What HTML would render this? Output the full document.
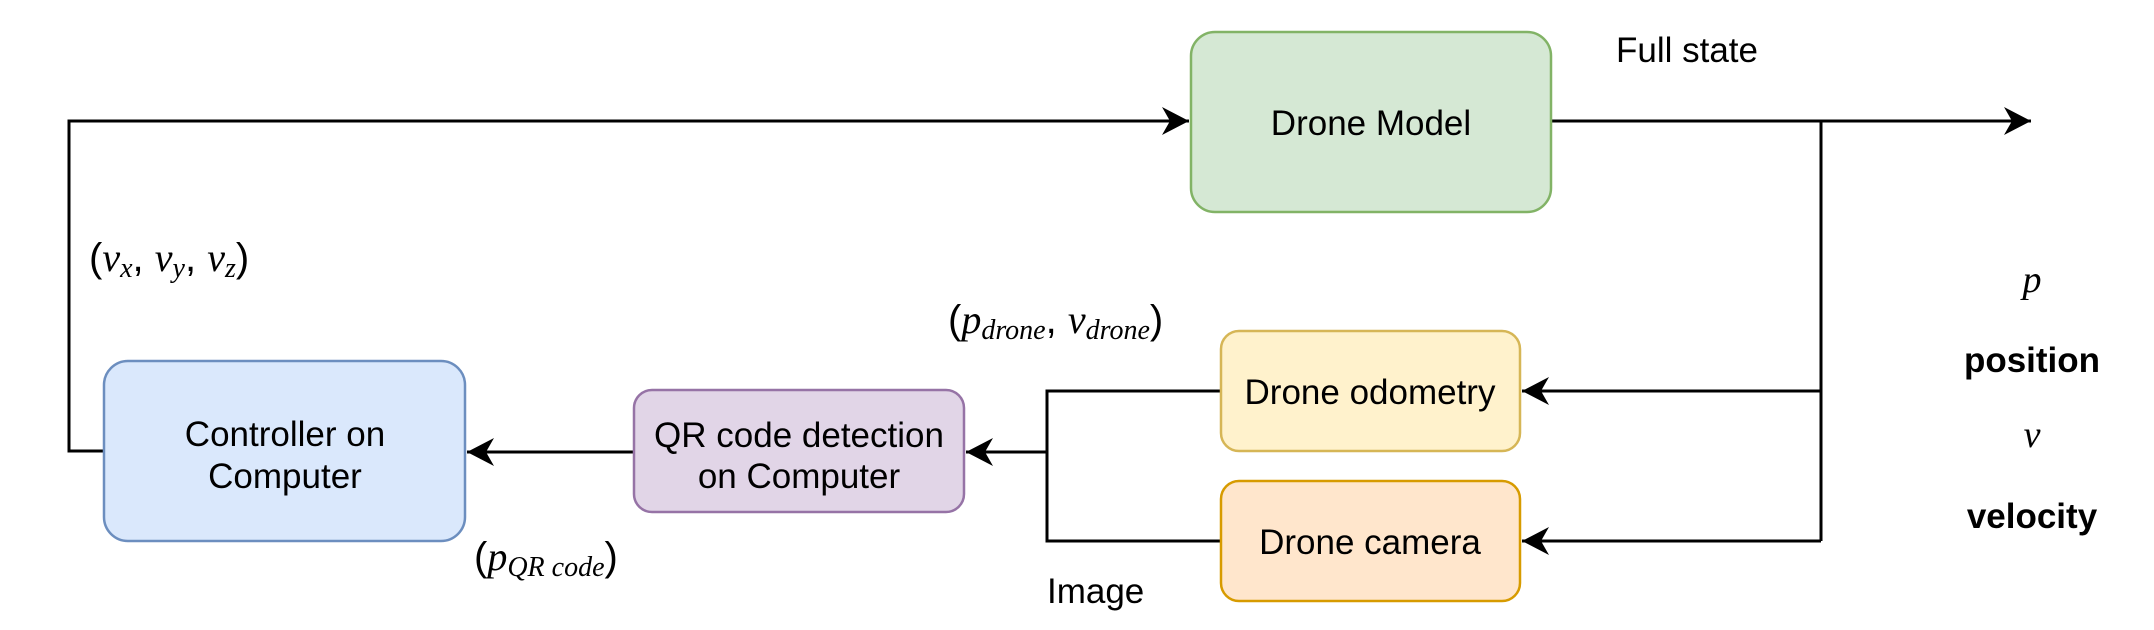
<!DOCTYPE html>
<html><head><meta charset="utf-8"><style>
html,body{margin:0;padding:0;background:#fff;}
svg{display:block;}
text{font-family:"Liberation Sans",Arial,sans-serif;fill:#000;}
.m{font-family:"Liberation Serif",serif;font-style:italic;}
</style></head><body>
<svg width="2154" height="630" viewBox="0 0 2154 630" xmlns="http://www.w3.org/2000/svg">
<defs>
<marker id="a" markerWidth="30" markerHeight="30" refX="27" refY="14" orient="auto" markerUnits="userSpaceOnUse">
<path d="M0,0 L27,14 L0,28 L8,14 Z" fill="#000"/>
</marker>
</defs>
<g stroke="#000" stroke-width="3" fill="none">
<polyline points="104,451 69,451 69,121 1189,121" marker-end="url(#a)"/>
<line x1="1551" y1="121" x2="2031" y2="121" marker-end="url(#a)"/>
<polyline points="1821,121 1821,541" />
<line x1="1821" y1="391" x2="1522" y2="391" marker-end="url(#a)"/>
<line x1="1821" y1="541" x2="1522" y2="541" marker-end="url(#a)"/>
<polyline points="1221,391 1047,391 1047,541 1221,541"/>
<line x1="1047" y1="452" x2="966" y2="452" marker-end="url(#a)"/>
<line x1="634" y1="452" x2="467" y2="452" marker-end="url(#a)"/>
</g>
<rect x="1191" y="32" width="360" height="180" rx="24" fill="#d5e8d4" stroke="#82b366" stroke-width="2.5"/>
<rect x="104" y="361" width="361" height="180" rx="24" fill="#dae8fc" stroke="#6c8ebf" stroke-width="2.5"/>
<rect x="634" y="390" width="330" height="122" rx="18" fill="#e1d5e7" stroke="#9673a6" stroke-width="2.5"/>
<rect x="1221" y="331" width="299" height="120" rx="18" fill="#fff2cc" stroke="#d6b656" stroke-width="2.5"/>
<rect x="1221" y="481" width="299" height="120" rx="18" fill="#ffe6cc" stroke="#d79b00" stroke-width="2.5"/>
<g font-size="35" text-anchor="middle">
<text x="1371" y="135">Drone Model</text>
<text x="285" y="446">Controller on</text>
<text x="285" y="488">Computer</text>
<text x="799" y="447">QR code detection</text>
<text x="799" y="488">on Computer</text>
<text x="1370" y="404">Drone odometry</text>
<text x="1370" y="554">Drone camera</text>
</g>
<text x="1616" y="62" font-size="35">Full state</text>
<text x="1047" y="603" font-size="35">Image</text>
<text x="2032" y="372" font-size="35" font-weight="bold" text-anchor="middle">position</text>
<text x="2032" y="528" font-size="35" font-weight="bold" text-anchor="middle">velocity</text>
<text class="m" x="2032" y="292" font-size="38" text-anchor="middle">p</text>
<text class="m" x="2032" y="447" font-size="38" text-anchor="middle">v</text>
<text x="89" y="271" font-size="40" font-family="Liberation Serif,serif"><tspan>(</tspan><tspan class="m">v</tspan><tspan class="m" font-size="28" dy="6">x</tspan><tspan dy="-6">, </tspan><tspan class="m">v</tspan><tspan class="m" font-size="28" dy="6">y</tspan><tspan dy="-6">, </tspan><tspan class="m">v</tspan><tspan class="m" font-size="28" dy="6">z</tspan><tspan dy="-6">)</tspan></text>
<text x="948" y="333" font-size="40" font-family="Liberation Serif,serif"><tspan>(</tspan><tspan class="m">p</tspan><tspan class="m" font-size="28" dy="6">drone</tspan><tspan dy="-6">, </tspan><tspan class="m">v</tspan><tspan class="m" font-size="28" dy="6">drone</tspan><tspan dy="-6">)</tspan></text>
<text x="474" y="570" font-size="40" font-family="Liberation Serif,serif"><tspan>(</tspan><tspan class="m">p</tspan><tspan class="m" font-size="28" dy="6">QR code</tspan><tspan dy="-6">)</tspan></text>
</svg>
</body></html>
